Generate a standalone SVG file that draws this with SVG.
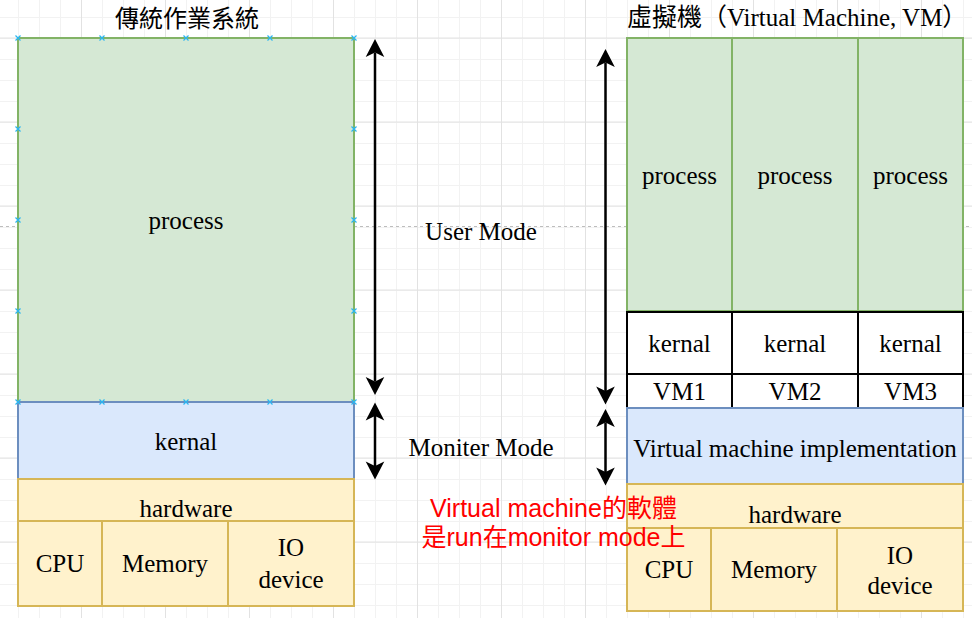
<svg xmlns="http://www.w3.org/2000/svg" width="972" height="618" viewBox="0 0 972 618">
<style>
.lbl{font-family:"Liberation Serif","Noto Sans CJK TC",serif;font-size:25px;fill:#000;text-anchor:middle}
.green{fill:#d5e8d4;stroke:#82b366;stroke-width:2}
.blue{fill:#dae8fc;stroke:#6c8ebf;stroke-width:2}
.yellow{fill:#fff2cc;stroke:#d6b656;stroke-width:2}
.white{fill:#fff;stroke:#000;stroke-width:2}
.arr{stroke:#000;stroke-width:2.5;fill:none;marker-start:url(#ah);marker-end:url(#ah)}
.red{font-family:"Liberation Sans","Noto Sans CJK TC",sans-serif;font-size:25px;fill:#ff0000;text-anchor:middle}
</style>
<defs>
<pattern id="gmin" x="18" y="17" width="21" height="21" patternUnits="userSpaceOnUse">
<path d="M0.5 0V21M0 0.5H21" stroke="#f2f2f2" stroke-width="1" fill="none"/>
</pattern>
<pattern id="gmaj" x="81" y="37.5" width="84" height="84" patternUnits="userSpaceOnUse">
<path d="M0.5 0V84M0 0.5H84" stroke="#e2e2e2" stroke-width="1" fill="none"/>
</pattern>
<marker id="ah" viewBox="-6 -10 20 20" refX="0" refY="0" markerWidth="20" markerHeight="20" markerUnits="userSpaceOnUse" orient="auto-start-reverse">
<path d="M13.5,0 L-4.5,-9.3 L0,0 L-4.5,9.3 Z" fill="#000" stroke="none"/>
</marker>
<path id="xm" d="M-2.5,-2.5L2.5,2.5M-2.5,2.5L2.5,-2.5" stroke="#29b6f2" stroke-width="1.2" fill="none"/>
</defs>

<rect width="972" height="618" fill="#fff"/>
<rect width="972" height="618" fill="url(#gmin)"/>
<rect width="972" height="618" fill="url(#gmaj)"/>
<line x1="0" y1="226.5" x2="972" y2="226.5" stroke="#bdbdbd" stroke-width="1" stroke-dasharray="3 3"/>

<g id="title-left"><text class="lbl" x="187" y="27" style="font-family:'Noto Sans CJK TC',sans-serif;font-size:24px">傳統作業系統</text></g>
<g id="title-right"><text class="lbl" x="627" y="26" style="text-anchor:start">虛擬機（Virtual Machine, VM）</text></g>

<g id="left-process"><rect class="green" x="18" y="38" width="336" height="364"/><text class="lbl" x="186" y="229">process</text></g>
<g id="left-kernal"><rect class="blue" x="18" y="402" width="336" height="77"/><text class="lbl" x="186" y="449.5">kernal</text></g>
<g id="left-hardware"><rect class="yellow" x="18" y="479" width="336" height="42"/><text class="lbl" x="186" y="517">hardware</text></g>
<g id="left-cpu"><rect class="yellow" x="18" y="521" width="84" height="85"/><text class="lbl" x="60" y="572">CPU</text></g>
<g id="left-memory"><rect class="yellow" x="102" y="521" width="126" height="85"/><text class="lbl" x="165" y="572">Memory</text></g>
<g id="left-io"><rect class="yellow" x="228" y="521" width="126" height="85"/><text class="lbl" x="291" y="556">IO</text><text class="lbl" x="291" y="587.5">device</text></g>

<g id="handles">
<use href="#xm" x="18" y="38"/><use href="#xm" x="102" y="38"/><use href="#xm" x="186" y="38"/><use href="#xm" x="270" y="38"/><use href="#xm" x="354" y="38"/>
<use href="#xm" x="18" y="129"/><use href="#xm" x="354" y="129"/>
<use href="#xm" x="18" y="220"/><use href="#xm" x="354" y="220"/>
<use href="#xm" x="18" y="311"/><use href="#xm" x="354" y="311"/>
<use href="#xm" x="18" y="402"/><use href="#xm" x="102" y="402"/><use href="#xm" x="186" y="402"/><use href="#xm" x="270" y="402"/><use href="#xm" x="354" y="402"/>
</g>

<g id="mode-labels">
<text class="lbl" x="481" y="239.5">User Mode</text>
<text class="lbl" x="481" y="456">Moniter Mode</text>
</g>

<g id="right-process1"><rect class="green" x="627" y="38" width="105" height="273"/><text class="lbl" x="679.5" y="184">process</text></g>
<g id="right-process2"><rect class="green" x="732" y="38" width="126" height="273"/><text class="lbl" x="795" y="184">process</text></g>
<g id="right-process3"><rect class="green" x="858" y="38" width="105" height="273"/><text class="lbl" x="910.5" y="184">process</text></g>
<g id="right-kernal1"><rect class="white" x="627" y="312" width="105" height="62"/><text class="lbl" x="679.5" y="352">kernal</text></g>
<g id="right-kernal2"><rect class="white" x="732" y="312" width="126" height="62"/><text class="lbl" x="795" y="352">kernal</text></g>
<g id="right-kernal3"><rect class="white" x="858" y="312" width="105" height="62"/><text class="lbl" x="910.5" y="352">kernal</text></g>
<g id="right-vm1"><rect class="white" x="627" y="374" width="105" height="34"/><text class="lbl" x="679.5" y="399.5">VM1</text></g>
<g id="right-vm2"><rect class="white" x="732" y="374" width="126" height="34"/><text class="lbl" x="795" y="399.5">VM2</text></g>
<g id="right-vm3"><rect class="white" x="858" y="374" width="105" height="34"/><text class="lbl" x="910.5" y="399.5">VM3</text></g>
<g id="right-vmimpl"><rect class="blue" x="627" y="408" width="336" height="76"/><text class="lbl" x="795" y="457">Virtual machine implementation</text></g>
<g id="right-hardware"><rect class="yellow" x="627" y="484" width="336" height="44"/><text class="lbl" x="795" y="523">hardware</text></g>
<g id="right-cpu"><rect class="yellow" x="627" y="528" width="84" height="83"/><text class="lbl" x="669" y="578">CPU</text></g>
<g id="right-memory"><rect class="yellow" x="711" y="528" width="126" height="83"/><text class="lbl" x="774" y="578">Memory</text></g>
<g id="right-io"><rect class="yellow" x="837" y="528" width="126" height="83"/><text class="lbl" x="900" y="563.5">IO</text><text class="lbl" x="900" y="594">device</text></g>

<g id="connectors">
<line class="arr" x1="375" y1="52.5" x2="375" y2="381.5"/>
<line class="arr" x1="375" y1="416" x2="375" y2="466"/>
<line class="arr" x1="605.5" y1="62.5" x2="605.5" y2="391"/>
<line class="arr" x1="605.5" y1="422.5" x2="605.5" y2="472"/>
</g>

<g id="note">
<text class="red" x="553.5" y="517">Virtual machine的軟體</text>
<text class="red" x="553.5" y="546">是run在monitor mode上</text>
</g>
</svg>
